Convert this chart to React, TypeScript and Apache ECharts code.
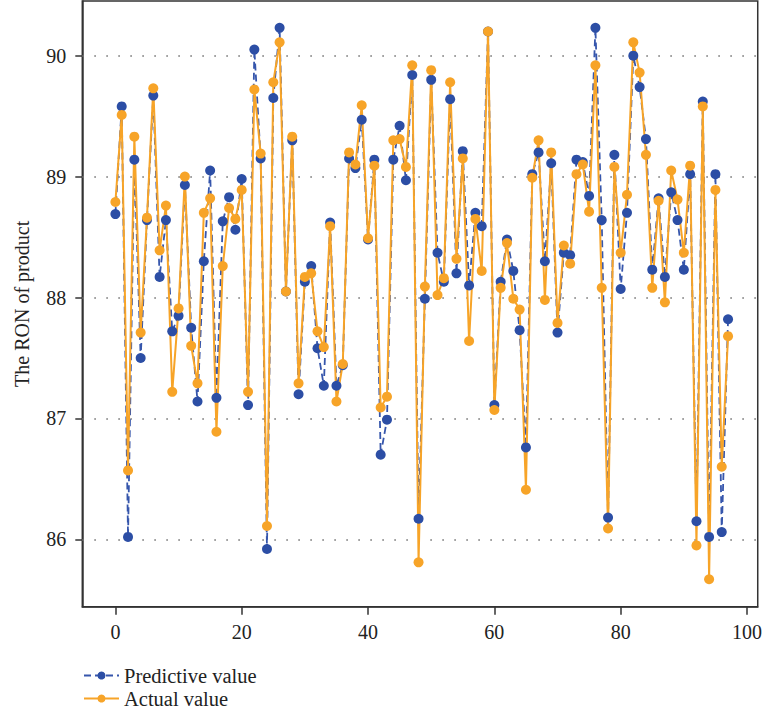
import React, { useEffect, useRef } from "react";
import * as echarts from "echarts";

const predictive = [
  88.69, 89.58, 86.02, 89.14, 87.5, 88.64, 89.67, 88.17, 88.64, 87.72,
  87.85, 88.93, 87.75, 87.14, 88.3, 89.05, 87.17, 88.63, 88.83, 88.56,
  88.98, 87.11, 90.05, 89.15, 85.92, 89.65, 90.23, 88.05, 89.3, 87.2,
  88.13, 88.26, 87.58, 87.27, 88.62, 87.27, 87.44, 89.15, 89.07, 89.47,
  88.48, 89.14, 86.7, 86.99, 89.14, 89.42, 88.97, 89.84, 86.17, 87.99,
  89.8, 88.37, 88.13, 89.64, 88.2, 89.21, 88.1, 88.7, 88.59, 90.2,
  87.11, 88.13, 88.48, 88.22, 87.73, 86.76, 89.02, 89.2, 88.3, 89.11,
  87.71, 88.37, 88.35, 89.14, 89.12, 88.84, 90.23, 88.64, 86.18, 89.18,
  88.07, 88.7, 90.0, 89.74, 89.31, 88.23, 88.82, 88.17, 88.87, 88.64,
  88.23, 89.02, 86.15, 89.62, 86.02, 89.02, 86.06, 87.82,
];

const actual = [
  88.79, 89.51, 86.57, 89.33, 87.71, 88.66, 89.73, 88.39, 88.76, 87.22,
  87.91, 89.0, 87.6, 87.29, 88.7, 88.82, 86.89, 88.26, 88.74, 88.65,
  88.89, 87.22, 89.72, 89.19, 86.11, 89.78, 90.11, 88.05, 89.33, 87.29,
  88.17, 88.2, 87.72, 87.59, 88.59, 87.14, 87.45, 89.2, 89.1, 89.59,
  88.49, 89.09, 87.09, 87.18, 89.3, 89.31, 89.08, 89.92, 85.81, 88.09,
  89.88, 88.02, 88.16, 89.78, 88.32, 89.15, 87.64, 88.65, 88.22, 90.2,
  87.07, 88.08, 88.45, 87.99, 87.9, 86.41, 88.99, 89.3, 87.98, 89.2,
  87.79, 88.43, 88.28, 89.02, 89.1, 88.71, 89.92, 88.08, 86.09, 89.08,
  88.37, 88.85, 90.11, 89.86, 89.18, 88.08, 88.8, 87.96, 89.05, 88.81,
  88.37, 89.09, 85.95, 89.58, 85.67, 88.89, 86.6, 87.68,
];

const xTicks = [0, 20, 40, 60, 80, 100];
const yTicks = [86, 87, 88, 89, 90];

const FONT = "'Liberation Serif', 'Times New Roman', serif";
const BLUE = "#2c4ea5";
const ORANGE = "#f7a428";
const AXIS = "#333333";

export default function App() {
  const ref = useRef<HTMLDivElement>(null);

  useEffect(() => {
    if (!ref.current) return;
    const chart = echarts.init(ref.current, undefined, { renderer: "svg" });
    const predData = predictive.map((v, i) => [i, v]);
    const actData = actual.map((v, i) => [i, v]);

    chart.setOption({
      animation: false,
      backgroundColor: "#ffffff",
      grid: {
        left: 82.3,
        top: 1,
        right: 6,
        bottom: 106.3,
        show: true,
        borderColor: AXIS,
        borderWidth: 1.5,
        backgroundColor: "transparent",
        containLabel: false,
      },
      legend: {
        orient: "vertical",
        left: 83,
        top: 665,
        padding: 0,
        itemGap: 2,
        itemWidth: 35,
        itemHeight: 10,
        textStyle: { fontFamily: FONT, fontSize: 20.5, color: "#222" },
        data: ["Predictive value", "Actual value"],
      },
      xAxis: {
        type: "value",
        min: -5.24,
        max: 101.7,
        axisLine: { show: true, onZero: false, lineStyle: { color: AXIS, width: 1.5 } },
        axisTick: {
          show: true,
          customValues: xTicks,
          length: 8,
          lineStyle: { color: AXIS, width: 1.5 },
        },
        axisLabel: {
          customValues: xTicks,
          fontFamily: FONT,
          fontSize: 20,
          color: "#222",
          margin: 15,
        },
        splitLine: { show: false },
      },
      yAxis: {
        type: "value",
        min: 85.443,
        max: 90.452,
        name: "The RON of product",
        nameLocation: "middle",
        nameRotate: 90,
        nameGap: 50,
        nameTextStyle: { fontFamily: FONT, fontSize: 20, color: "#222" },
        axisLine: { show: true, onZero: false, lineStyle: { color: AXIS, width: 1.5 } },
        axisTick: {
          show: true,
          customValues: yTicks,
          length: 7,
          lineStyle: { color: AXIS, width: 1.5 },
        },
        axisLabel: {
          customValues: yTicks,
          fontFamily: FONT,
          fontSize: 20,
          color: "#222",
          margin: 16,
        },
        splitLine: { show: false },
      },
      series: [
        {
          name: "Predictive value",
          type: "line",
          data: predData,
          symbol: "circle",
          symbolSize: 10,
          showAllSymbol: true,
          itemStyle: { color: BLUE },
          lineStyle: { color: "#3656ac", width: 1.8, type: [7, 4] },
          markLine: {
            silent: true,
            z: 1,
            symbol: ["none", "none"],
            label: { show: false },
            lineStyle: { color: "#777", width: 1.6, type: [1.6, 10.4] },
            emphasis: { disabled: true },
            data: yTicks.map((v) => ({ yAxis: v })),
          },
        },
        {
          name: "Actual value",
          type: "line",
          data: actData,
          symbol: "circle",
          symbolSize: 10,
          showAllSymbol: true,
          itemStyle: { color: ORANGE },
          lineStyle: { color: ORANGE, width: 2 },
        },
      ],
    });

    return () => chart.dispose();
  }, []);

  return (
    <div
      ref={ref}
      style={{ position: "fixed", left: 0, top: 0, width: 765, height: 713 }}
    />
  );
}
